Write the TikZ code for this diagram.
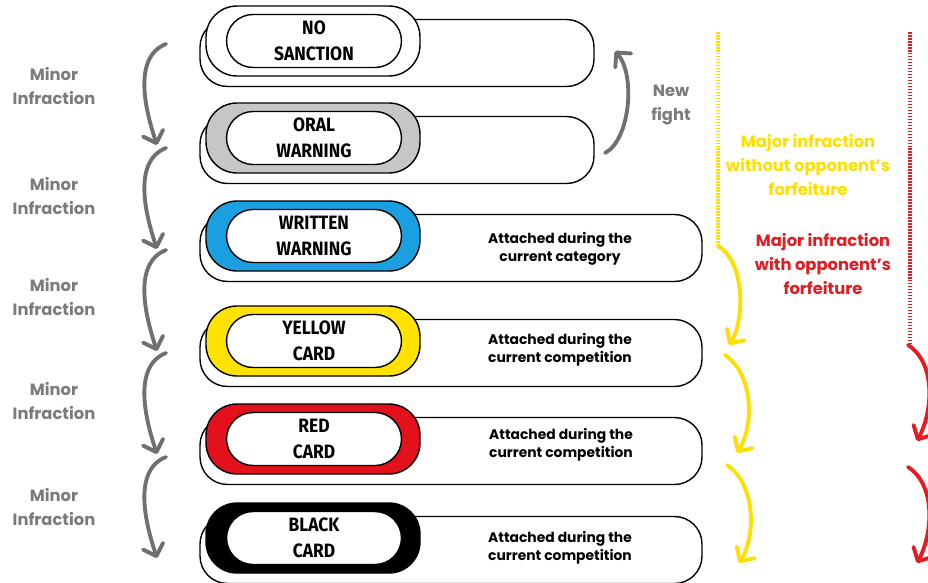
\documentclass[tikz,border=0pt]{standalone}
\usepackage{fontspec}
\setmainfont{Poppins}
\newfontfamily\badgefont[FakeStretch=0.9]{Fira Sans}
\usepackage{tikz}
\usetikzlibrary{arrows.meta, positioning}
\definecolor{linegray}{HTML}{707070}
\definecolor{textgray}{HTML}{7B7B7B}
\definecolor{badgegray}{HTML}{C6C6C6}
\definecolor{badgeblue}{HTML}{1AA0E0}
\definecolor{badgeyellow}{HTML}{FFE200}
\definecolor{badgered}{HTML}{E2111B}
\definecolor{majyellow}{HTML}{FFDF00}
\definecolor{majred}{HTML}{E31B23}

\tikzset{
	bar/.style={draw, line width=0.8pt, fill=white, rounded corners=0.55cm, minimum height=1.34cm, inner sep=0pt},
	badge/.style={draw, line width=0.8pt, rounded corners=0.62cm, minimum width=4.28cm, minimum height=1.4cm, inner sep=0pt},
	pill/.style={draw, line width=0.8pt, fill=white, rounded corners=0.53cm, minimum width=3.5cm, minimum height=1.06cm, inner sep=0pt, align=center, font=\badgefont\bfseries\fontsize{11}{14.7}\selectfont},
	note/.style={align=center, font=\bfseries\fontsize{7.9}{10.5}\selectfont},
	minor/.style={align=center, text=textgray, font=\bfseries\fontsize{9.3}{13.6}\selectfont},
	major/.style={align=center, font=\bfseries\fontsize{9.3}{13.6}\selectfont},
	curvearrow/.style={line width=2.2pt, line cap=round, -{Straight Barb[length=6pt, width=12pt, round]}},
	hatchline/.style={line width=2.2pt, dash pattern=on 0.9pt off 0.8pt}
}

\begin{document}
\begin{tikzpicture}[x=0.02cm, y=-0.02cm]

\useasboundingbox (0,0) rectangle (928,582);
\clip (0,0) rectangle (928,582);

% sanction rows: badge centre / name / colour / bar length / label
\foreach \y/\id/\col/\len/\txt in {
	41/ns/white/394/{NO\\SANCTION},
	138/ow/badgegray/394/{ORAL\\WARNING},
	236/ww/badgeblue/502/{WRITTEN\\WARNING},
	341/yc/badgeyellow/502/{YELLOW\\CARD},
	439/rc/badgered/502/{RED\\CARD},
	538/bc/black/502/{BLACK\\CARD}} {
	\node[bar, minimum width=\len*0.02cm] (\id bar) at ({200+\len/2}, \y+12) {}; % long box
	\node[badge, fill=\col] (\id badge) at (313, \y) {}; % coloured badge
	\node[pill] (\id) at (314, \y) {\txt}; % label
}

\node[note] (wwnote) at (560, 249) {Attached during the\\current category};
\node[note] (ycnote) at (560, 350) {Attached during the\\current competition};
\node[note] (rcnote) at (561, 445) {Attached during the\\current competition};
\node[note] (bcnote) at (560, 548) {Attached during the\\current competition};

% minor infractions
\foreach \y/\ly [count=\i] in {44/86, 148/196, 250/297, 353/401, 457/507} {
	\coordinate (m\i s) at (166, \y);
	\coordinate (m\i e) at (157, \y+101);
	\draw[curvearrow, linegray] (m\i s) .. controls +(-36,14) and +(-9,-27) .. (m\i e);
	\node[minor] (minor\i) at (54, \ly) {Minor\\Infraction};
}

% new fight
\coordinate (nfs) at (605, 153);
\coordinate (nfe) at (615, 51);
\draw[curvearrow, linegray] (nfs) .. controls +(25,-13) and +(21,24) .. (nfe);
\node[minor] (newfight) at (671, 105) {New\\fight};

% major infraction without forfeiture
\coordinate (ytop) at (718, 32);
\coordinate (ybot) at (718, 246);
\draw[hatchline, majyellow] (ytop) -- (ybot);
\draw[curvearrow, majyellow] (ybot) .. controls +(27,16) and +(16,-25) .. (729, 345) coordinate (y1e);
\foreach \y [count=\i] in {355, 465} {
	\coordinate (y\i s) at (723+\i*2, \y);
	\coordinate (y\i t) at (735+\i*2, \y+98);
	\draw[curvearrow, majyellow] (y\i s) .. controls +(29,20) and +(17,-27) .. (y\i t);
}
\node[major, text=majyellow] (majorno) at (808, 165) {Major infraction\\without opponent’s\\forfeiture};

% major infraction with forfeiture
\coordinate (rtop) at (910, 32);
\coordinate (rbot) at (910, 345);
\draw[hatchline, majred] (rtop) -- (rbot);
\foreach \y [count=\i] in {345, 467} {
	\coordinate (r\i s) at (908, \y);
	\coordinate (r\i t) at (917, \y+96);
	\draw[curvearrow, majred] (r\i s) .. controls +(28,18) and +(16,-30) .. (r\i t);
}
\node[major, text=majred] (majorwith) at (823, 264) {Major infraction\\with opponent’s\\forfeiture};

\end{tikzpicture}
\end{document}
